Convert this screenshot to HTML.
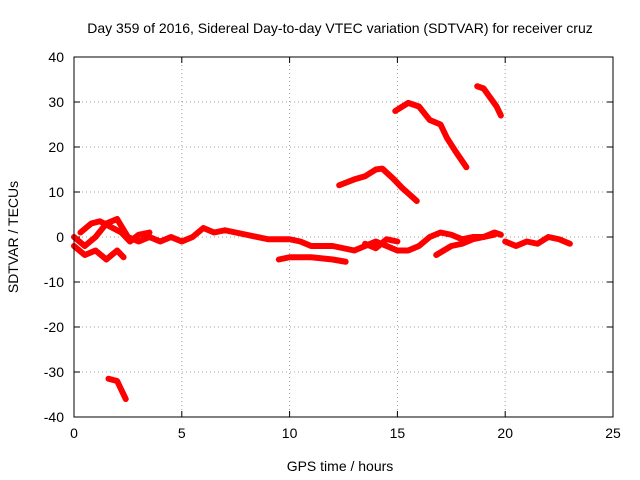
<!DOCTYPE html>
<html><head><meta charset="utf-8"><style>
body{margin:0;background:#fff;}
svg{display:block;font-family:"Liberation Sans",sans-serif;}
</style></head><body>
<svg id="chart" width="640" height="480" viewBox="0 0 640 480">
<rect width="640" height="480" fill="#fff"/>
<text x="340" y="33" font-size="14" text-anchor="middle">Day 359 of 2016, Sidereal Day-to-day VTEC variation (SDTVAR) for receiver cruz</text>
<text x="340" y="471" font-size="14" text-anchor="middle">GPS time / hours</text>
<text transform="translate(18,237) rotate(-90)" font-size="14" text-anchor="middle">SDTVAR / TECUs</text>
<g id="grid"></g>
<g id="ticks"></g>
<g id="series"></g>
<rect x="74" y="57" width="539" height="360" fill="none" stroke="#000" stroke-width="1"/>
</svg>
<script>
const xTicks=[0,5,10,15,20,25];
const yTicks=[-40,-30,-20,-10,0,10,20,30,40];
const track1=[[12.3,11.5],[13,12.8],[13.5,13.5],[14,15],[14.3,15.2],[14.8,13],[15.2,11],[15.9,8]];
const track2=[[14.9,28],[15.5,29.8],[16,29],[16.5,26],[17,25],[17.3,22],[17.7,19],[18.2,15.5]];
const track3=[[18.7,33.5],[19,33],[19.3,31],[19.6,29],[19.8,27]];
const track4=[[1.6,-31.5],[2,-32],[2.2,-34],[2.4,-36]];
const track5=[[0,0],[0.5,-2],[1,0],[1.5,3],[2,4],[2.5,0],[3,-1],[3.5,0],[4,-1],[4.5,0],[5,-1],[5.5,0],[6,2],[6.5,1],[7,1.5],[8,0.5],[9,-0.5],[10,-0.5],[10.5,-1],[11,-2],[12,-2],[12.5,-2.5],[13,-3],[13.5,-2],[14,-1],[14.5,-2],[15,-3],[15.5,-3],[16,-2],[16.5,0],[17,1],[17.5,0.5],[18,-0.5],[18.5,0],[19,0],[19.5,1],[19.8,0.5]];
const track6=[[9.5,-5],[10,-4.5],[11,-4.5],[12,-5],[12.6,-5.5]];
const track7=[[16.8,-4],[17.5,-2],[18,-1.5],[18.5,-0.5],[19.5,0.5]];
const track8=[[20,-1],[20.5,-2],[21,-1],[21.5,-1.5],[22,0],[22.5,-0.5],[23,-1.5]];
const track9=[[0,-2],[0.5,-4],[1,-3],[1.5,-5],[2,-3],[2.3,-4.5]];
const track10=[[0.3,1],[0.8,3],[1.2,3.5],[1.8,2],[2.2,1],[2.6,-1],[3,0.5],[3.5,1]];
const track11=[[13.5,-1.5],[14,-2.5],[14.5,-0.5],[15,-1]];
const tracks=[track1,track2,track3,track4,track5,track6,track7,track8,track9,track10,track11];
const X0=74,X1=613,Y0=417,Y1=57;
const sx=v=>X0+(v-0)/(25-0)*(X1-X0);
const sy=v=>Y0-(v+40)/80*(Y0-Y1);
const NS="http://www.w3.org/2000/svg";
const grid=document.getElementById('grid'),ticks=document.getElementById('ticks'),ser=document.getElementById('series');
function mk(t,a){const e=document.createElementNS(NS,t);for(const k in a)e.setAttribute(k,a[k]);return e;}
xTicks.forEach(v=>{
 const x=sx(v);
 if(v>0&&v<25){const g=mk('line',{x1:x,x2:x,y1:Y1,y2:Y0,stroke:'#a0a0a0','stroke-dasharray':'1,3'});
 
 grid.appendChild(g);}
 const t=mk('line',{x1:x,x2:x,y1:Y0,y2:Y0-6,stroke:'#000'});ticks.appendChild(t);
 const t2=mk('line',{x1:x,x2:x,y1:Y1,y2:Y1+6,stroke:'#000'});ticks.appendChild(t2);
 const l=mk('text',{x:x,y:Y0+21,'font-size':14,'text-anchor':'middle'});l.textContent=v;
 
 ticks.appendChild(l);
});
yTicks.forEach(v=>{
 const y=sy(v);
 if(v>-40&&v<40){const g=mk('line',{x1:X0,x2:X1,y1:y,y2:y,stroke:'#a0a0a0','stroke-dasharray':'1,3'});
 
 grid.appendChild(g);}
 ticks.appendChild(mk('line',{x1:X0,x2:X0+6,y1:y,y2:y,stroke:'#000'}));
 ticks.appendChild(mk('line',{x1:X1,x2:X1-6,y1:y,y2:y,stroke:'#000'}));
 const l=mk('text',{x:X0-10,y:y+5,'font-size':14,'text-anchor':'end'});l.textContent=v;
 
 ticks.appendChild(l);
});
tracks.forEach(tr=>{
 const p=mk('polyline',{points:tr.map(d=>sx(d[0])+','+sy(d[1])).join(' '),fill:'none',stroke:'#ff0000','stroke-width':6,'stroke-linejoin':'round','stroke-linecap':'round'});
 
 
 ser.appendChild(p);
});
</script>
</body></html>
